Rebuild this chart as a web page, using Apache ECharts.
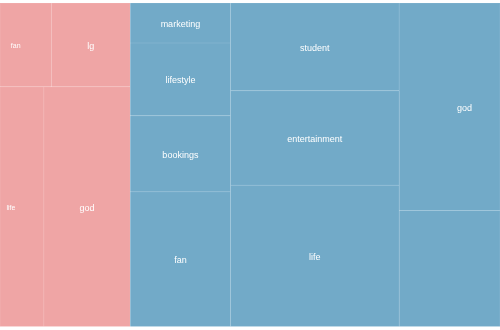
<!DOCTYPE html>
<html>
<head>
<meta charset="utf-8">
<script src="https://cdn.jsdelivr.net/npm/echarts@6/dist/echarts.min.js"></script>
<style>html,body{margin:0;padding:0;background:#fff}#c{width:500px;height:330px}</style>
</head>
<body>
<div id="c"></div>
<script>
// Group 1 (pink)
const pinkNames = ['fan', 'lg', 'life', 'god'];
const pinkValues = [43, 66, 105, 207];
// Group 2 (blue)
const blueNames = ['marketing', 'lifestyle', 'bookings', 'fan', 'student', 'entertainment', 'life', 'god', ''];
const blueValues = [40, 73, 76, 135, 148, 159, 238, 209, 117];

const PINK = '#efa5a5', PINK_LINE = '#f1aeae';
const BLUE = '#72aac8', BLUE_LINE = '#80b3cf';
const FONT = 'Liberation Sans, Arial, Helvetica, sans-serif';

function leaf(names, values, i, color, line, labelExtra) {
  return {
    name: names[i], value: values[i],
    itemStyle: { color: color, borderColor: line, borderWidth: 0.5, gapWidth: 0 },
    label: Object.assign({ show: names[i] !== '', fontSize: 9, offset: [0, 1.5] }, labelExtra || {})
  };
}
function group(children, color) {
  return { name: '', children: children, itemStyle: { color: color, borderWidth: 0, gapWidth: 0 } };
}

const pl = (i, extra) => leaf(pinkNames, pinkValues, i, PINK, PINK_LINE, extra);
const bl = (i, extra) => leaf(blueNames, blueValues, i, BLUE, BLUE_LINE, extra);
const small = (dx) => ({ fontSize: 7, offset: [dx, 1.5] });

const pinkData = [pl(0, small(-10)), pl(1), group([pl(2, small(-11)), pl(3)], PINK)];
const blueData = [
  group([
    group([bl(0), group([bl(1), group([bl(2), bl(3)], BLUE)], BLUE)], BLUE),
    group([bl(4), group([bl(5), bl(6)], BLUE)], BLUE)
  ], BLUE),
  group([bl(7, { offset: [15, 1.5] }), bl(8)], BLUE)
];

const sum = a => a.reduce((s, v) => s + v, 0);
const pinkShare = sum(pinkValues) / (sum(pinkValues) + sum(blueValues)) * 100;

function series(data, left, width, color, ratio) {
  return {
    type: 'treemap',
    left: left + '%', width: width + '%', top: 3, bottom: 3.5,
    roam: false, nodeClick: false, sort: false,
    squareRatio: ratio,
    breadcrumb: { show: false },
    animation: false,
    itemStyle: { color: color, borderWidth: 0, gapWidth: 0 },
    label: { show: true, position: 'inside', align: 'center', verticalAlign: 'middle',
             color: '#fff', fontFamily: FONT, fontSize: 9, padding: 0 },
    upperLabel: { show: false },
    emphasis: { disabled: true },
    data: data
  };
}

const chart = echarts.init(document.getElementById('c'), null, { renderer: 'canvas' });
chart.setOption({
  animation: false,
  series: [
    series(pinkData, 0, pinkShare, PINK, 2.5),
    series(blueData, pinkShare, 100 - pinkShare, BLUE, 1.3)
  ]
});
</script>
</body>
</html>
